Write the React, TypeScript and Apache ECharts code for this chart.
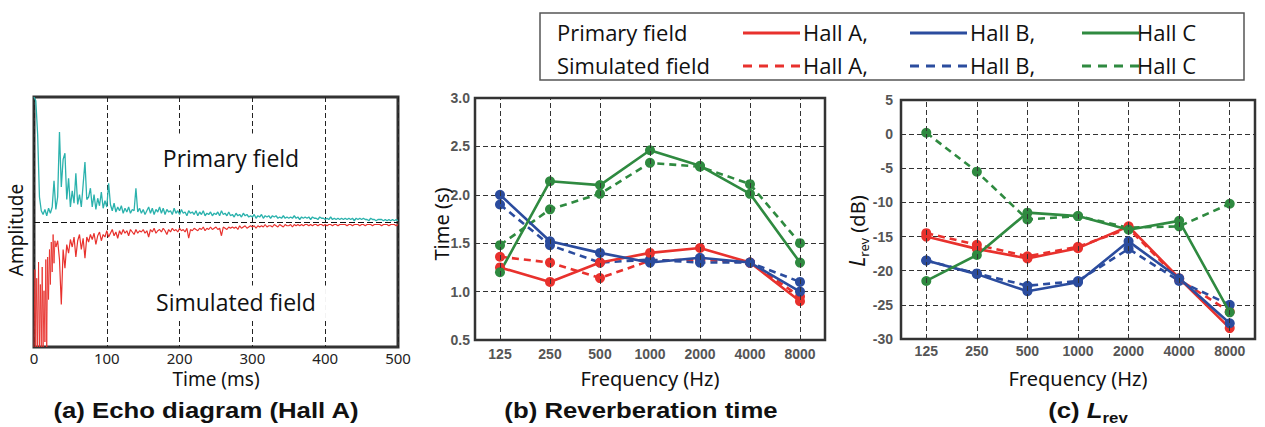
import React, { useEffect, useRef } from "react";
import * as echarts from "echarts";

// ---------- data ----------
// Panel (a): echo amplitudes (percent of full scale)
const ECHO_STEP_MS = 2.5; // primary field: 0..500 ms every 2.5 ms
const ECHO_PRIMARY = [
  100, 97, 70, 20, 9, 6, 10, 5, 11, 7,
  12, 33, 10, 20, 72, 28, 50, 55, 18, 35,
  12, 25, 15, 39, 14, 22, 12, 30, 48, 18,
  20, 27, 12, 22, 10, 19, 13, 24, 11, 17,
  12, 31, 14, 9, 15, 8, 12, 9, 13, 7,
  11, 8, 12, 7, 10, 9, 27, 8, 11, 7,
  10, 6, 9, 12, 7, 11, 6, 10, 8, 12,
  7, 11, 6, 10, 8, 9, 6, 11, 7, 9,
  6, 10, 7, 8, 5, 9, 7, 8, 6, 9,
  5, 8, 6, 9, 5, 7, 6, 8, 5, 7,
  6, 8, 5, 9, 6, 7, 5, 8, 5, 6,
  4, 7, 5, 6, 4, 7, 5, 6, 4, 5,
  4, 6, 3, 5, 4, 6, 3, 5, 4, 5,
  3, 5, 4, 5, 3, 4, 3, 5, 3, 4,
  3, 4, 3, 5, 3, 4, 2, 4, 3, 4,
  3, 4, 2, 4, 3, 3, 2, 4, 3, 3,
  2, 3, 2, 4, 2, 3, 2, 3, 2, 3,
  2, 3, 2, 3, 2, 3, 1, 3, 2, 3,
  2, 3, 2, 2, 1, 3, 2, 2, 1, 2,
  2, 2, 1, 2, 1, 2, 1, 2, 1, 2, 1,
];
// simulated field onset: 0..30 ms every 1.25 ms
const ECHO_SIM_ONSET_STEP_MS = 1.25;
const ECHO_SIM_ONSET = [
  -100, -38, -100, -45, -100, -32, -100, -50, -100, -36,
  -100, -55, -96, -30, -100, -28, -62, -22, -50, -16,
  -40, -10, -33, -15, -20,
];
// simulated field tail: 30..500 ms every 2.5 ms
const ECHO_SIM_TAIL_START_MS = 30;
const ECHO_SIM_TAIL = [
  -20, -15, -30, -66, -22, -37, -18, -25,
  -14, -20, -12, -28, -15, -10, -22, -13, -29, -12,
  -16, -10, -14, -9, -18, -11, -8, -15, -10, -12,
  -7, -12, -9, -6, -11, -8, -13, -7, -10, -6,
  -9, -7, -11, -6, -8, -10, -6, -9, -7, -8,
  -6, -9, -7, -12, -6, -8, -5, -9, -7, -6,
  -8, -5, -7, -10, -6, -8, -5, -7, -6, -8,
  -5, -7, -6, -8, -5, -13, -6, -7, -5, -6,
  -7, -5, -6, -4, -7, -5, -6, -4, -6, -5,
  -4, -6, -5, -11, -4, -5, -6, -4, -5, -4,
  -5, -4, -6, -3, -5, -4, -3, -5, -4, -3,
  -4, -3, -5, -3, -4, -3, -4, -2, -4, -3,
  -3, -4, -2, -3, -4, -2, -3, -4, -2, -3,
  -3, -2, -4, -2, -3, -2, -3, -2, -3, -2,
  -2, -3, -2, -3, -2, -2, -3, -2, -2, -3,
  -2, -3, -2, -2, -3, -2, -2, -3, -2, -2,
  -2, -2, -3, -2, -2, -3, -2, -2, -2, -3,
  -2, -2, -3, -2, -2, -2, -3, -2, -2, -2,
  -2, -3, -2, -2, -2, -3, -2, -2, -2, -3, -2,
];
const ECHO_TICKS = [0, 100, 200, 300, 400, 500];

const FREQS = ["125", "250", "500", "1000", "2000", "4000", "8000"];

// Panel (b): reverberation time (s)
const RT_A_PRIMARY = [1.25, 1.1, 1.3, 1.4, 1.45, 1.3, 0.9];
const RT_A_SIM = [1.36, 1.3, 1.14, 1.32, 1.33, 1.3, 0.95];
const RT_B_PRIMARY = [2.0, 1.52, 1.4, 1.3, 1.35, 1.3, 1.0];
const RT_B_SIM = [1.9, 1.48, 1.3, 1.33, 1.3, 1.3, 1.1];
const RT_C_PRIMARY = [1.2, 2.14, 2.1, 2.46, 2.3, 2.01, 1.3];
const RT_C_SIM = [1.48, 1.85, 2.01, 2.33, 2.29, 2.11, 1.5];

// Panel (c): Lrev (dB)
const LREV_A_PRIMARY = [-15.0, -16.8, -18.2, -16.7, -13.5, -21.1, -28.4];
const LREV_A_SIM = [-14.5, -16.2, -17.9, -16.5, -13.8, -21.3, -26.0];
const LREV_B_PRIMARY = [-18.5, -20.5, -23.0, -21.7, -15.7, -21.1, -27.7];
const LREV_B_SIM = [-18.5, -20.4, -22.2, -21.5, -16.8, -21.5, -25.0];
const LREV_C_PRIMARY = [-21.5, -17.7, -11.5, -12.0, -14.0, -12.7, -26.1];
const LREV_C_SIM = [0.2, -5.5, -12.5, -12.0, -13.7, -13.5, -10.2];

const HALLS = ["Hall A,", "Hall B,", "Hall C"];

// ---------- styles ----------
const RED = "#e8312d";
const BLUE = "#2b4c9e";
const GREEN = "#2f8a40";
const CYAN = "#2bb2ad";
const SANS = "'Noto Sans', 'Open Sans', sans-serif";
const OPEN = "'Open Sans', sans-serif";
const ARIAL = "'Liberation Sans', Arial, sans-serif";
const GRID_DASH = [5, 3];

export default function App() {
  const ref = useRef<HTMLDivElement>(null);

  useEffect(() => {
    document.body.style.margin = "0";
    if (!ref.current) return;
    const chart = echarts.init(ref.current, null, { renderer: "svg" });

    const pairs = (arr: number[], start: number, step: number) => arr.map((v, i) => [start + i * step, v]);

    const vLines = {
      silent: true,
      symbol: ["none", "none"],
      label: { show: false },
      lineStyle: { type: GRID_DASH, color: "#333", width: 1 },
      emphasis: { disabled: true },
      data: FREQS.map((f) => ({ xAxis: f })),
    };

    const mk = (data: number[], color: string, dashed: boolean, idx: number, withLines = false) => ({
      type: "line",
      xAxisIndex: idx,
      yAxisIndex: idx,
      data,
      symbol: "circle",
      symbolSize: 10,
      itemStyle: { color },
      lineStyle: { color, width: 2.6, type: dashed ? [7, 5] : "solid" },
      z: dashed ? 3 : 4,
      ...(withLines ? { markLine: vLines } : {}),
    });

    const freqLabel = {
      fontSize: 14,
      fontWeight: "bold",
      color: "#555",
      fontFamily: ARIAL,
    };

    const legendX = [743, 910, 1082];
    const legendTextX = [803, 970, 1137];
    const legendColors = [RED, BLUE, GREEN];

    const graphic: any[] = [
      {
        type: "rect",
        shape: { x: 540, y: 13, width: 704, height: 67 },
        style: { fill: "#fff", stroke: "#555", lineWidth: 1.5 },
        z: 10,
      },
      { type: "text", x: 557, y: 32, z: 11, style: { text: "Primary field", fontSize: 22, fontFamily: OPEN, fill: "#111", verticalAlign: "middle" } },
      { type: "text", x: 557, y: 65, z: 11, style: { text: "Simulated field", fontSize: 22, fontFamily: OPEN, fill: "#111", verticalAlign: "middle" } },
    ];
    HALLS.forEach((h, i) => {
      graphic.push(
        { type: "line", z: 11, shape: { x1: legendX[i], y1: 33, x2: legendX[i] + 57, y2: 33 }, style: { stroke: legendColors[i], lineWidth: 3 } },
        { type: "line", z: 11, shape: { x1: legendX[i], y1: 66, x2: legendX[i] + 57, y2: 66 }, style: { stroke: legendColors[i], lineWidth: 3, lineDash: [9, 7] } },
        { type: "text", x: legendTextX[i], y: 32, z: 12, style: { text: h, fontSize: 22, fontFamily: OPEN, fill: "#111", verticalAlign: "middle" } },
        { type: "text", x: legendTextX[i], y: 65, z: 12, style: { text: h, fontSize: 22, fontFamily: OPEN, fill: "#111", verticalAlign: "middle" } }
      );
    });
    const capStyle = { fontSize: 23, fontWeight: "bold", fontFamily: ARIAL, fill: "#111", align: "center", verticalAlign: "middle" };
    graphic.push(
      {
        type: "text", x: 231, y: 158, z: 20,
        style: { text: "Primary field", fontSize: 23, fontFamily: OPEN, fill: "#111", align: "center", verticalAlign: "middle", backgroundColor: "#fff", padding: [24, 4, 2, 4] },
      },
      {
        type: "text", x: 238, y: 302, z: 20,
        style: { text: "Simulated field", fontSize: 23, fontFamily: OPEN, fill: "#111", align: "center", verticalAlign: "middle", backgroundColor: "#fff", padding: [8, 10, 2, 6] },
      },
      { type: "text", x: 16, y: 230, rotation: Math.PI / 2, z: 20, style: { text: "Amplitude", fontSize: 19, fontFamily: SANS, fill: "#111", align: "center", verticalAlign: "middle" } },
      { type: "text", x: 441, y: 224, rotation: Math.PI / 2, z: 20, style: { text: "Time (s)", fontSize: 20, fontFamily: SANS, fill: "#111", align: "center", verticalAlign: "middle" } },
      {
        type: "text", x: 857, y: 231, rotation: Math.PI / 2, z: 20,
        style: {
          text: "{i|L}{s|rev}{n| (dB)}",
          align: "center", verticalAlign: "middle", fill: "#111",
          rich: {
            i: { fontSize: 21, fontStyle: "italic", fontFamily: SANS, fill: "#111" },
            s: { fontSize: 13, fontFamily: SANS, fill: "#111", verticalAlign: "bottom", padding: [0, 0, -3, 0] },
            n: { fontSize: 20, fontFamily: SANS, fill: "#111" },
          },
        },
      },
      { type: "text", x: 206, y: 410, scaleX: 1.12, z: 20, style: { ...capStyle, text: "(a) Echo diagram (Hall A)" } },
      { type: "text", x: 641, y: 410, scaleX: 1.12, z: 20, style: { ...capStyle, text: "(b) Reverberation time" } },
      {
        type: "text", x: 1088, y: 410, scaleX: 1.12, z: 20,
        style: {
          text: "{n|(c) }{i|L}{s|rev}",
          align: "center", verticalAlign: "middle", fill: "#111",
          rich: {
            n: { fontSize: 23, fontWeight: "bold", fontFamily: ARIAL, fill: "#111" },
            i: { fontSize: 23, fontWeight: "bold", fontStyle: "italic", fontFamily: ARIAL, fill: "#111" },
            s: { fontSize: 15, fontWeight: "bold", fontFamily: ARIAL, fill: "#111", verticalAlign: "bottom", padding: [0, 0, -4, 0] },
          },
        },
      }
    );

    const axisTitle = { fontSize: 20, color: "#111", fontFamily: SANS };

    const option: any = {
      animation: false,
      textStyle: { fontFamily: SANS },
      grid: [
        { left: 34, top: 97, width: 364, height: 250, show: true, borderColor: "#333", borderWidth: 3, backgroundColor: "transparent" },
        { left: 475, top: 98, width: 350, height: 242, show: true, borderColor: "#333", borderWidth: 2.5, backgroundColor: "transparent" },
        { left: 901, top: 100, width: 354, height: 239, show: true, borderColor: "#333", borderWidth: 2.5, backgroundColor: "transparent" },
      ],
      xAxis: [
        {
          type: "value", gridIndex: 0, min: ECHO_TICKS[0], max: ECHO_TICKS[ECHO_TICKS.length - 1], interval: 100,
          axisLine: { show: false }, axisTick: { show: false },
          axisLabel: { fontSize: 15, color: "#222", fontFamily: SANS, margin: 3 },
          splitLine: { show: true, lineStyle: { type: GRID_DASH, color: "#222", width: 1 } },
          name: "Time (ms)", nameLocation: "middle", nameGap: 21,
          nameTextStyle: { ...axisTitle, fontSize: 19 },
        },
        {
          type: "category", gridIndex: 1, data: FREQS, boundaryGap: true,
          axisLine: { show: false }, axisTick: { show: false },
          axisLabel: { ...freqLabel, margin: 7 },
          splitLine: { show: false },
          name: "Frequency (Hz)", nameLocation: "middle", nameGap: 28,
          nameTextStyle: axisTitle,
        },
        {
          type: "category", gridIndex: 2, data: FREQS, boundaryGap: true,
          axisLine: { show: false }, axisTick: { show: false },
          axisLabel: { ...freqLabel, margin: 5 },
          splitLine: { show: false },
          name: "Frequency (Hz)", nameLocation: "middle", nameGap: 29,
          nameTextStyle: axisTitle,
        },
      ],
      yAxis: [
        {
          type: "value", gridIndex: 0, min: -100, max: 100,
          axisLine: { show: false }, axisTick: { show: false }, axisLabel: { show: false }, splitLine: { show: false },
        },
        {
          type: "value", gridIndex: 1, min: 0.5, max: 3.0, interval: 0.5,
          axisLine: { show: false }, axisTick: { show: false },
          axisLabel: { ...freqLabel, margin: 5, formatter: (v: number) => v.toFixed(1) },
          splitLine: { show: true, lineStyle: { type: GRID_DASH, color: "#333", width: 1 } },
        },
        {
          type: "value", gridIndex: 2, min: -30, max: 5, interval: 5,
          axisLine: { show: false }, axisTick: { show: false },
          axisLabel: { ...freqLabel, margin: 8 },
          splitLine: { show: true, lineStyle: { type: GRID_DASH, color: "#333", width: 1 } },
        },
      ],
      series: [
        {
          type: "line", xAxisIndex: 0, yAxisIndex: 0, data: pairs(ECHO_PRIMARY, 0, ECHO_STEP_MS),
          showSymbol: false, lineStyle: { color: CYAN, width: 1.3 }, itemStyle: { color: CYAN },
          markLine: {
            silent: true, symbol: ["none", "none"], label: { show: false },
            lineStyle: { type: [6, 3], color: "#111", width: 1.2 },
            data: [{ yAxis: 0 }],
          },
        },
        {
          type: "line", xAxisIndex: 0, yAxisIndex: 0, data: pairs(ECHO_SIM_ONSET, 0, ECHO_SIM_ONSET_STEP_MS),
          showSymbol: false, lineStyle: { color: RED, width: 0.9 }, itemStyle: { color: RED },
        },
        {
          type: "line", xAxisIndex: 0, yAxisIndex: 0, data: pairs(ECHO_SIM_TAIL, ECHO_SIM_TAIL_START_MS, ECHO_STEP_MS),
          showSymbol: false, lineStyle: { color: RED, width: 1.2 }, itemStyle: { color: RED },
        },
        mk(RT_A_SIM, RED, true, 1, true),
        mk(RT_B_SIM, BLUE, true, 1),
        mk(RT_C_SIM, GREEN, true, 1),
        mk(RT_A_PRIMARY, RED, false, 1),
        mk(RT_B_PRIMARY, BLUE, false, 1),
        mk(RT_C_PRIMARY, GREEN, false, 1),
        mk(LREV_A_SIM, RED, true, 2, true),
        mk(LREV_B_SIM, BLUE, true, 2),
        mk(LREV_C_SIM, GREEN, true, 2),
        mk(LREV_A_PRIMARY, RED, false, 2),
        mk(LREV_B_PRIMARY, BLUE, false, 2),
        mk(LREV_C_PRIMARY, GREEN, false, 2),
      ],
      graphic,
    };

    chart.setOption(option);
    return () => chart.dispose();
  }, []);

  return <div ref={ref} style={{ width: 1265, height: 427, background: "#fff" }} />;
}
